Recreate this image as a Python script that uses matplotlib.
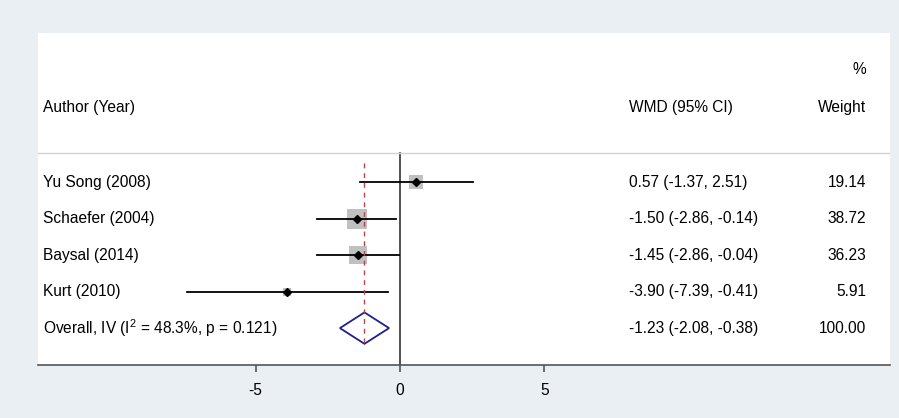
import matplotlib.pyplot as plt
import numpy as np

plt.rcParams['font.family'] = ['Liberation Sans', 'DejaVu Sans']
plt.rcParams['mathtext.default'] = 'regular'
plt.rcParams['axes.unicode_minus'] = False

# study data
studies = ['Yu Song (2008)', 'Schaefer (2004)', 'Baysal (2014)', 'Kurt (2010)']
wmd = [0.57, -1.50, -1.45, -3.90]
lower = [-1.37, -2.86, -2.86, -7.39]
upper = [2.51, -0.14, -0.04, -0.41]
weights = [19.14, 38.72, 36.23, 5.91]

overall_label = 'Overall, IV (I$^{2}$ = 48.3%, p = 0.121)'
overall = -1.23
overall_lo = -2.08
overall_hi = -0.38

xticks = [-5, 0, 5]

bg = '#e9eff2'
fig = plt.figure(figsize=(8.99, 4.18), dpi=100, facecolor=bg)
ax = fig.add_axes([38 / 899, 53 / 418, 852 / 899, 332 / 418])
ax.set_facecolor('white')

ax.set_xlim(-12.53, 16.96)
ax.set_ylim(5.01, -4.08)

fs = 11.2
tr = ax.get_yaxis_transform()

# header
ax.text(0.006, -2.03, 'Author (Year)', transform=tr, fontsize=fs, va='center', ha='left')
ax.text(0.694, -2.03, 'WMD (95% CI)', transform=tr, fontsize=fs, va='center', ha='left')
ax.text(0.972, -2.03, 'Weight', transform=tr, fontsize=fs, va='center', ha='right')
ax.text(0.972, -3.07, '%', transform=tr, fontsize=fs, va='center', ha='right')

# separator under header
ax.axhline(-0.79, color='#cfd3d6', lw=1.0)

# null line and overall dashed line
ax.plot([0, 0], [-0.79, 5.01], color='#333333', lw=1.2, zorder=1)
ax.plot([overall, overall], [-0.52, 4.52], color='#b5474a', lw=1.0,
        ls=(0, (3.5, 3.5)), zorder=4)

# studies
for i, name in enumerate(studies):
    side_px = 3.06 * np.sqrt(weights[i])
    ax.scatter(wmd[i], i, marker='s', s=(side_px * 0.72) ** 2,
               color='#c0c0c0', linewidths=0, zorder=2)
    ax.plot([lower[i], upper[i]], [i, i], color='black', lw=1.3, zorder=3)
    ax.plot(wmd[i], i, marker='D', ms=4, color='black', zorder=5)
    ax.text(0.006, i, name, transform=tr, fontsize=fs, va='center', ha='left')
    ax.text(0.694, i, f'{wmd[i]:.2f} ({lower[i]:.2f}, {upper[i]:.2f})',
            transform=tr, fontsize=fs, va='center', ha='left')
    ax.text(0.972, i, f'{weights[i]:.2f}', transform=tr, fontsize=fs,
            va='center', ha='right')

# overall diamond
yo = len(studies)
ax.fill([overall_lo, overall, overall_hi, overall],
        [yo, yo - 0.43, yo, yo + 0.43], facecolor='white',
        edgecolor='#1f1f8c', lw=1.3, zorder=3)
ax.text(0.006, yo, overall_label, transform=tr, fontsize=fs, va='center', ha='left')
ax.text(0.694, yo, f'{overall:.2f} ({overall_lo:.2f}, {overall_hi:.2f})',
        transform=tr, fontsize=fs, va='center', ha='left')
ax.text(0.972, yo, '100.00', transform=tr, fontsize=fs, va='center', ha='right')

# axes styling
for s in ['top', 'left', 'right']:
    ax.spines[s].set_visible(False)
ax.spines['bottom'].set_color('#555555')
ax.spines['bottom'].set_linewidth(1.2)
ax.set_yticks([])
ax.set_xticks(xticks)
ax.set_xticklabels([str(t) for t in xticks])
ax.tick_params(axis='x', direction='out', length=5, width=1.2,
               color='#555555', labelsize=fs, pad=8)

fig.savefig('out.png', dpi=100, facecolor=bg)
